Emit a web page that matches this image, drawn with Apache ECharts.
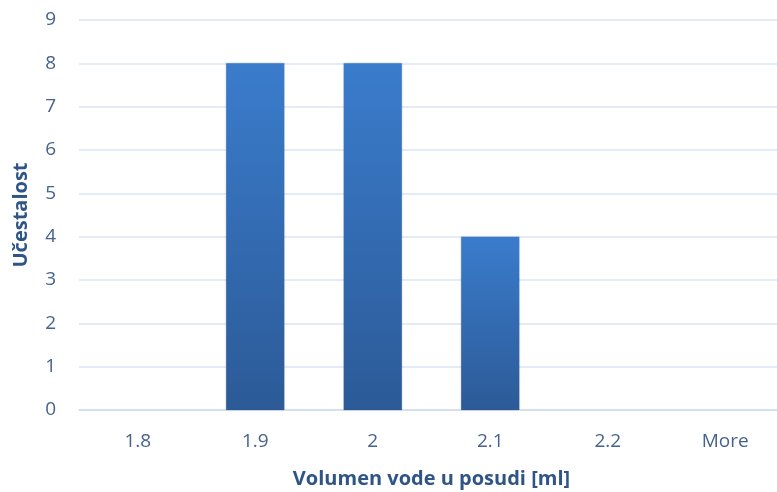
<!DOCTYPE html>
<html><head><meta charset="utf-8">
<script src="https://cdn.jsdelivr.net/npm/echarts@6/dist/echarts.min.js"></script>
<style>html,body{margin:0;padding:0;background:#fff;}#c{width:777px;height:492px;}</style>
</head><body><div id="c"></div>
<script>
const categories = ['1.8', '1.9', '2', '2.1', '2.2', 'More'];
const frequency = [0, 8, 8, 4, 0, 0];
const yTicks = [0, 1, 2, 3, 4, 5, 6, 7, 8, 9];
const xTitle = 'Volumen vode u posudi [ml]';
const yTitle = 'Učestalost';

const chart = echarts.init(document.getElementById('c'), null, {renderer: 'canvas'});
const font = '"Open Sans", Lato, sans-serif';
chart.setOption({
  animation: false,
  grid: {left: 79, right: -7, top: 20, bottom: 82, outerBoundsMode: 'none', containLabel: false},
  xAxis: {
    type: 'category', data: categories,
    name: xTitle, nameLocation: 'middle', nameGap: 59,
    nameTextStyle: {color: '#2f5587', fontSize: 20, fontWeight: 'bold', fontFamily: font},
    axisLine: {lineStyle: {color: '#d0dcee', width: 1.5}},
    axisTick: {show: false},
    axisLabel: {color: '#46628f', fontSize: 19, margin: 22, fontFamily: font}
  },
  yAxis: {
    type: 'value', min: yTicks[0], max: yTicks[yTicks.length - 1], interval: 1,
    name: yTitle, nameLocation: 'middle', nameGap: 48,
    nameTextStyle: {color: '#2f5587', fontSize: 20, fontWeight: 'bold', fontFamily: font},
    axisLine: {show: false}, axisTick: {show: false},
    axisLabel: {color: '#46628f', fontSize: 19, margin: 23, fontFamily: font},
    splitLine: {lineStyle: {color: '#dae5f3', width: 1.5}}
  },
  series: [{
    type: 'bar', data: frequency, barWidth: '49.5%',
    itemStyle: {
      color: new echarts.graphic.LinearGradient(0, 0, 0, 1, [
        {offset: 0, color: '#3a7ccc'},
        {offset: 1, color: '#2c5a97'}
      ]),
      shadowColor: 'rgba(0,0,0,0.2)', shadowBlur: 2
    }
  }]
});
</script></body></html>
